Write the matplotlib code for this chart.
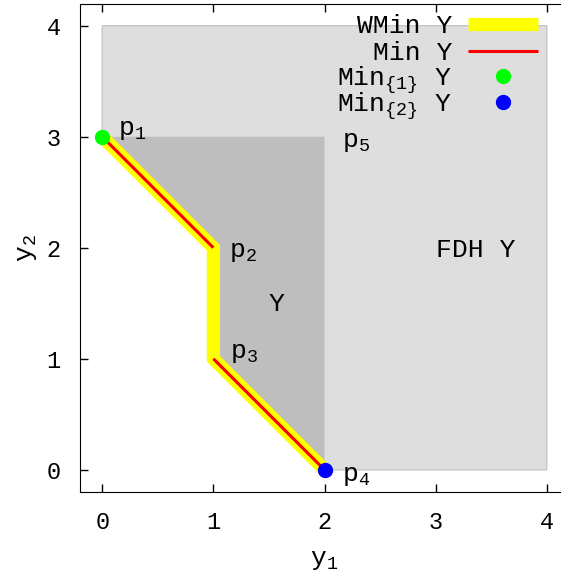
import matplotlib
matplotlib.use('Agg')
import matplotlib.pyplot as plt
from matplotlib.patches import Polygon
from matplotlib.legend import Legend

plt.rcParams['font.family'] = ['Liberation Mono', 'DejaVu Sans']
plt.rcParams['mathtext.fontset'] = 'custom'
plt.rcParams['mathtext.rm'] = 'Liberation Mono'
plt.rcParams['mathtext.it'] = 'Liberation Mono'
plt.rcParams['mathtext.bf'] = 'Liberation Mono'

# Data
points_y1 = [0, 1, 1, 2]
points_y2 = [3, 2, 1, 0]
point_names = ['p$_1$', 'p$_2$', 'p$_3$', 'p$_4$']
p5 = (2, 3)
fdh_y1 = [0, 1, 1, 2, 4, 4, 0]
fdh_y2 = [3, 2, 1, 0, 0, 4, 4]
Y_y1 = [0, 1, 1, 2, 2]
Y_y2 = [3, 2, 1, 0, 3]
wmin_y1 = [0, 1, 1, 2]
wmin_y2 = [3, 2, 1, 0]
min_seg1_y1 = [0, 1]
min_seg1_y2 = [3, 2]
min_seg2_y1 = [1, 2]
min_seg2_y2 = [1, 0]
min1 = (0, 3)
min2 = (2, 0)
ticks = [0, 1, 2, 3, 4]

FS = 19
TFS = 17

fig = plt.figure(figsize=(5.61, 5.81), dpi=100)
ax = fig.add_axes([80/561, (581-492)/581, (569-80)/561, (492-3.5)/581])
ax.set_xlim(-0.2, 4.2)
ax.set_ylim(-0.2, 4.2)

ax.add_patch(Polygon(list(zip(fdh_y1, fdh_y2)), closed=True, facecolor='#dedede',
                     edgecolor='#c6c6c6', linewidth=1.0, zorder=1))
ax.add_patch(Polygon(list(zip(Y_y1, Y_y2)), closed=True, facecolor='#bebebe',
                     edgecolor='none', zorder=2))

h_wmin, = ax.plot(wmin_y1, wmin_y2, color='#ffff00', lw=9.5, solid_capstyle='butt',
                  solid_joinstyle='miter', zorder=3, label='WMin Y')
h_min, = ax.plot(min_seg1_y1, min_seg1_y2, color='#ff0000', lw=2.2, solid_capstyle='butt',
                 zorder=4, label='Min Y')
ax.plot(min_seg2_y1, min_seg2_y2, color='#ff0000', lw=2.2, solid_capstyle='butt', zorder=4)
h_m1, = ax.plot([min1[0]], [min1[1]], 'o', color='#00ff00', ms=10, zorder=5,
                label='Min$_{\\{1\\}}$ Y')
h_m2, = ax.plot([min2[0]], [min2[1]], 'o', color='#0000ff', ms=10, zorder=5,
                label='Min$_{\\{2\\}}$ Y')

label_pos = [(0.144, 3.02), (1.14, 1.92), (1.15, 1.01), (2.16, -0.10)]
for (x, y), name in zip(label_pos, point_names):
    ax.text(x, y, name, fontsize=FS, ha='left', va='baseline', zorder=6)
ax.text(2.16, 2.91, 'p$_5$', fontsize=FS, ha='left', va='baseline', zorder=6)
ax.text(1.57, 1.49, 'Y', fontsize=FS, ha='center', va='center', zorder=6)
ax.text(3.36, 1.98, 'FDH Y', fontsize=FS, ha='center', va='center', zorder=6)

ax.set_xticks(ticks)
ax.set_yticks(ticks)
ax.tick_params(direction='in', length=6, width=1, top=True, right=True,
               labelsize=TFS, pad=14)
ax.set_xlabel('y$_1$', fontsize=FS, labelpad=10)
ax.set_ylabel('y$_2$', fontsize=FS, labelpad=5)

# gnuplot-style key: one legend box per row, text right-aligned left of the sample
row_px = [26, 53, 80, 106]
for h, py in zip([h_wmin, h_min, h_m1, h_m2], row_px):
    leg = Legend(ax, [h], [h.get_label()], loc='center right',
                 bbox_to_anchor=((538 - 80) / 489, (492 - py) / 488.5),
                 frameon=False, fontsize=FS, markerfirst=False, handlelength=2.65,
                 handletextpad=0.6, borderaxespad=0.0, borderpad=0.0, numpoints=1)
    ax.add_artist(leg)

fig.savefig('out.png', dpi=100)
